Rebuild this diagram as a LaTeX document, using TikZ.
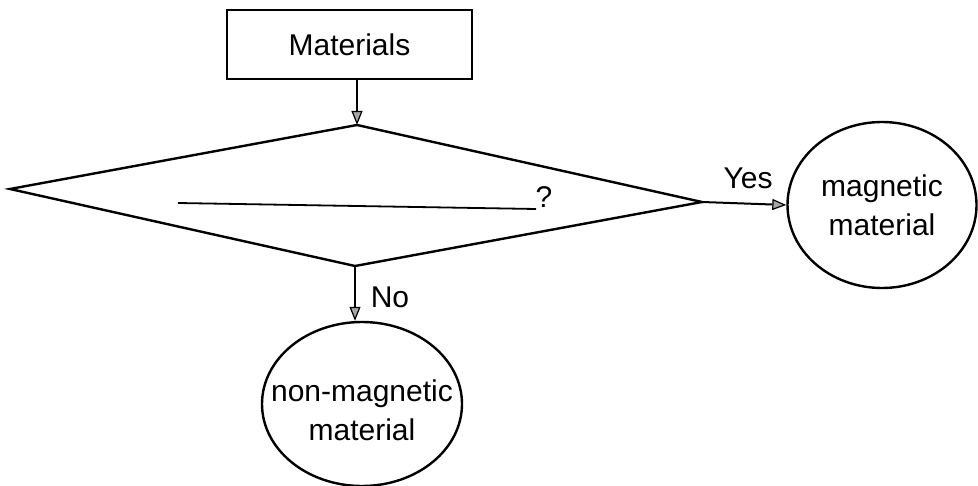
\documentclass[tikz,border=0pt]{standalone}
\usepackage{fontspec}
\setmainfont{Liberation Sans}
\usetikzlibrary{arrows.meta,shapes.geometric}
\tikzset{
  line/.style={line width=1.2pt},
  arr/.style={line width=1pt,-{Triangle[length=7pt,width=5.5pt,fill=gray!70,line width=0.6pt]}},
  txt/.style={font=\fontsize{15}{19.5}\selectfont, inner sep=0pt},
  boxnode/.style={draw,line width=1.2pt,minimum width=122.5pt,minimum height=34.5pt,font=\fontsize{15}{19.5}\selectfont},
  oval/.style={draw,ellipse,line width=1.2pt,align=center,inner xsep=-12pt,inner ysep=0pt,font=\fontsize{15}{19.5}\selectfont}
}
\begin{document}
\begin{tikzpicture}[x=0.5pt,y=-0.5pt]
\useasboundingbox (0,0) rectangle (978,486);
% start box
\node[boxnode] (mat) at (349.5,44.5) {Materials};
% decision diamond
\coordinate (dL) at (10,189);
\coordinate (dT) at (357,125);
\coordinate (dR) at (702,202);
\coordinate (dB) at (355,266);
\draw[line,line join=miter] (dL) -- (dT) -- (dR) -- (dB) -- cycle;
% blank to fill in
\coordinate (blankA) at (178,203);
\coordinate (blankB) at (536,209);
\draw[line width=0.9pt] (blankA) -- (blankB);
\node[txt] (q) at (544,197) {?};
% outcomes
\node[oval,minimum width=94.5pt,minimum height=83pt] (mag) at (882,205) {magnetic\\material};
\node[oval,minimum width=100pt,minimum height=82pt] (nonmag) at (362,404) {\rule{0pt}{17pt}non-magnetic\\material};
% connectors
\draw[arr] (mat.south -| dT) -- (dT);
\draw[arr] (dR) -- (mag.west);
\draw[arr] (dB) -- (dB |- nonmag.north);
\node[txt] (yes) at (748,178) {Yes};
\node[txt] (no) at (390,297) {No};
\end{tikzpicture}
\end{document}
